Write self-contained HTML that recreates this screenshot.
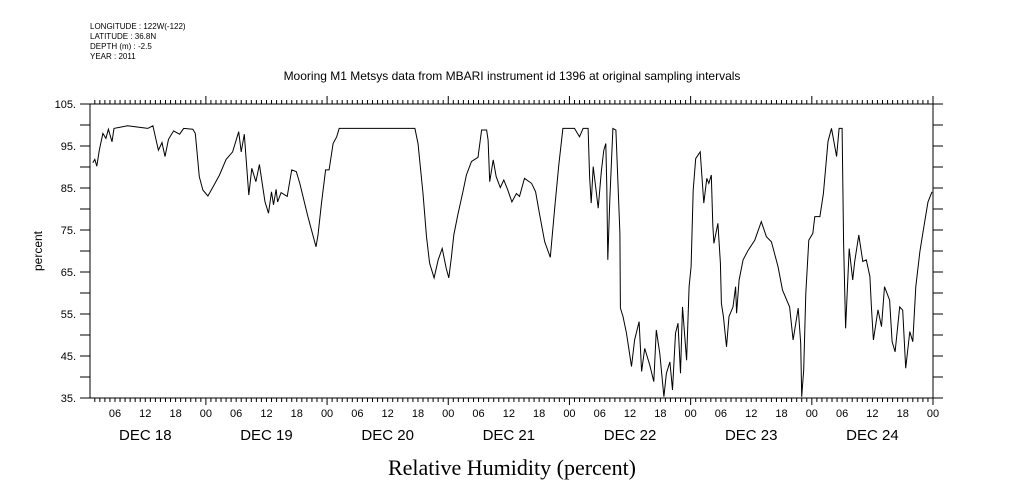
<!DOCTYPE html>
<html><head><meta charset="utf-8"><style>
body{margin:0;background:#fff}
svg{display:block;font-family:"Liberation Sans",sans-serif}
</style></head><body>
<svg id="chart" width="1009" height="504" viewBox="0 0 1009 504" xmlns="http://www.w3.org/2000/svg">
<g font-size="8" fill="#000">
<text x="90" y="29">LONGITUDE : 122W(-122)</text>
<text x="90" y="39">LATITUDE : 36.8N</text>
<text x="90" y="49">DEPTH (m) : -2.5</text>
<text x="90" y="59">YEAR : 2011</text>
</g>
<text x="512" y="80" font-size="12" text-anchor="middle">Mooring M1 Metsys data from MBARI instrument id 1396 at original sampling intervals</text>
<text x="0" y="0" font-size="12" text-anchor="middle" transform="translate(42,251) rotate(-90)">percent</text>
<text x="512" y="475" font-size="22" text-anchor="middle" font-family="Liberation Serif, serif">Relative Humidity (percent)</text>
<g id="axes"></g>
<g id="series"></g>
</svg>
<script>
const times=[1.6,2.0,2.4,2.9,3.6,4.2,4.7,5.4,5.8,8.5,12.5,13.5,14.6,15.3,15.9,16.6,17.6,18.8,19.6,21.4,21.9,22.7,23.4,24.4,25.6,26.7,28.0,29.3,30.5,31.0,31.6,32.5,33.1,33.9,34.6,35.7,36.4,37.0,37.4,37.9,38.2,38.9,40.1,41.0,41.9,42.6,44.2,45.8,46.2,46.9,47.7,48.4,49.2,49.9,50.4,65.4,66.0,67.0,67.7,68.3,69.2,70.0,70.8,71.6,72.1,72.6,73.1,73.9,74.9,75.6,76.6,77.9,78.6,79.6,79.9,80.2,80.9,81.5,82.3,83.0,83.8,84.6,85.5,86.1,87.1,88.5,89.3,90.1,91.1,92.2,93.1,93.9,94.7,97.0,98.0,98.7,99.7,100.0,100.3,100.7,101.7,102.3,102.8,103.2,103.4,103.6,104.0,104.6,105.2,106.0,106.1,106.6,107.3,108.3,108.9,109.8,110.3,110.9,111.9,112.7,113.2,113.9,114.7,115.2,115.9,116.4,117.0,117.5,118.0,118.4,119.2,119.7,120.1,120.5,121.0,121.9,122.6,123.2,123.6,124.1,124.4,124.6,125.4,125.9,126.1,126.5,127.1,127.6,128.4,128.9,129.1,129.6,130.4,131.4,132.7,134.0,135.0,136.0,137.3,138.2,139.6,140.3,141.3,141.8,142.0,142.4,142.8,143.4,144.2,144.6,145.6,146.3,147.2,147.9,148.9,149.4,150.0,150.3,150.7,151.4,152.1,152.5,153.3,154.1,154.8,155.5,155.8,156.2,157.1,157.8,158.4,159.4,159.9,160.5,161.4,162.0,162.6,163.4,164.0,164.6,165.4,166.2,167.0,167.8];
const values=[91,91.8,90.2,94,98,96.8,99,96,99.2,99.8,99.2,99.8,94,95.8,92.5,96.6,98.6,97.8,99.2,99,98,87.7,84.5,83.1,85.7,88.1,91.8,93.6,98.4,93.6,97.8,83.3,89.7,86.5,90.6,81.7,79,84.1,81,84.7,81.7,83.9,83,89.3,88.9,86.1,78.2,71,73.8,81.4,89.3,89.3,95.6,97.2,99.2,99.2,95.6,83.7,73.4,67.1,63.6,67.9,70.6,65.9,63.6,68.3,73.8,78.6,84.1,88.1,91.3,92.3,98.8,98.8,96.4,86.5,91.7,87.7,85.1,86.9,84.5,81.7,83.7,83,87.3,86.1,84.1,78.6,72.2,68.5,80.5,90.5,99.2,99.2,97.2,99.2,99.2,87.7,81.4,90.1,80.2,88.9,94,95.6,85.3,67.9,82.1,99.2,98.8,74.2,56.4,54.4,50.4,42.5,48.8,53.2,41.3,46.8,42.9,38.9,51.2,45.6,35.3,40.9,43.6,36.9,50.4,52.8,40.9,56.7,44,61.5,66.3,84.5,92,93.6,81.4,87.3,86.1,88.1,76.2,71.8,76.6,67.1,57.5,54.4,47.2,54.4,56.7,61.5,55.2,63.1,67.9,70.2,72.6,77,73.4,72.2,66.3,60.7,56.7,48.8,56.4,48,35.3,41.7,59.9,72.6,74.2,78.2,78.2,83.7,96.1,99.2,92.5,99.2,99.2,71.8,51.6,70.6,63.1,67.5,73.8,67.5,67.9,63.9,56.7,48.8,56,52,61.5,58.3,48.4,46,56.7,55.9,42.1,50.8,48.4,61.5,69.9,75.8,81.7,84.1];
const yTicks=[35,40,45,50,55,60,65,70,75,80,85,90,95,100,105];
const yLabels=["35.","45.","55.","65.","75.","85.","95.","105."];
const dayLabels=["DEC 18","DEC 19","DEC 20","DEC 21","DEC 22","DEC 23","DEC 24"];
const hourLabels=["00","06","12","18"];

const X0=90,X1=933,Y0=104,Y1=398,H0=1.05,H1=168.0,V0=35,V1=105;
const sx=h=>X0+(h-H0)*(X1-X0)/(H1-H0);
const sy=v=>Y1-(v-V0)*(Y1-Y0)/(V1-V0);
const NS="http://www.w3.org/2000/svg";
const axes=document.getElementById('axes');
function mk(tag,attrs,parent){const e=document.createElementNS(NS,tag);for(const k in attrs)e.setAttribute(k,attrs[k]);parent.appendChild(e);return e;}
let d=`M${X0},${Y0}H${X1}V${Y1}H${X0}Z`;
for(const v of yTicks){const y=sy(v);d+=`M${X0-10},${y}H${X0}M${X1},${y}H${X1+10}`;}
for(let h=Math.ceil(H0);h<=H1;h++){const x=sx(h);const day=h%24===0;d+=`M${x},${Y0}V${Y0-(day?8:4)}M${x},${Y1}V${Y1+(day?7:4)}`;}
const frame=mk('path',{d:d,stroke:'#000','stroke-width':1,fill:'none'},axes);


for(const lab of yLabels){const t=mk('text',{x:X0-14,y:sy(parseFloat(lab))+4,'font-size':11,'text-anchor':'end'},axes);t.textContent=lab;

}
for(let h=6;h<=H1;h+=6){const t=mk('text',{x:sx(h),y:417,'font-size':11,'text-anchor':'middle'},axes);t.textContent=hourLabels[(h%24)/6];

}
dayLabels.forEach((lab,i)=>{const t=mk('text',{x:sx(i*24+12),y:440,'font-size':15,'text-anchor':'middle'},axes);t.textContent=lab;

});
const pts=times.map((t,i)=>`${sx(t).toFixed(1)},${sy(values[i]).toFixed(1)}`).join(' ');
const line=mk('polyline',{points:pts,fill:'none',stroke:'#000','stroke-width':1},document.getElementById('series'));


</script>
</body></html>
